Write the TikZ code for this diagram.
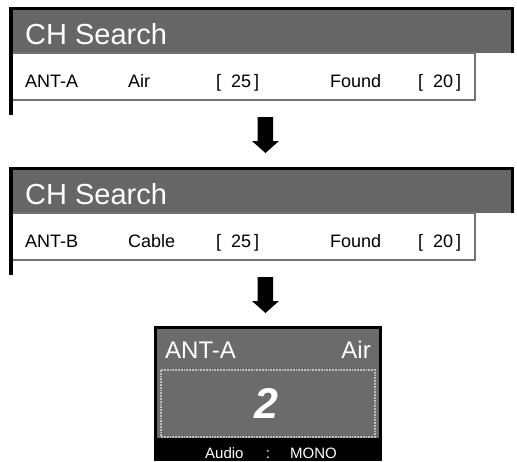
\documentclass[tikz,border=0pt]{standalone}
\usepackage{fontspec}
\setmainfont{Liberation Sans}
\begin{document}
\begin{tikzpicture}[x=1pt,y=-1pt,
  titlebar/.style={fill=black!60},
  rowbox/.style={draw=black!55,line width=1.2pt,fill=white},
  frameline/.style={line width=3.5pt,line cap=butt},
  rowtext/.style={anchor=base west,inner sep=0pt,font=\fontsize{18}{18}\selectfont},
  titletext/.style={anchor=base west,inner sep=0pt,text=white,font=\fontsize{29}{29}\selectfont},
  disptext/.style={inner sep=0pt,text=white,font=\fontsize{24}{24}\selectfont},
  audtext/.style={inner sep=0pt,text=white,font=\fontsize{15}{15}\selectfont},
  blockarrow/.style={fill=black}]
\useasboundingbox (0,0) rectangle (517,461);
% ---------- panel 1 ----------
\fill[titlebar] (12,9) rectangle (511,53);
\draw[rowbox] (11,53) rectangle (475,100);
\draw[frameline] (11,115) -- (11,8.5) -- (512.5,8.5) -- (512.5,53);
\node[titletext] (t1) at (25,44) {CH Search};
\node[rowtext] (a1) at (25,87) {ANT-A};
\node[rowtext] (b1) at (128,87) {Air};
\node[rowtext] (c1) at (216,87) {[\ \ 25\,]};
\node[rowtext] (d1) at (330,87) {Found};
\node[rowtext] (e1) at (418,87) {[\ \ 20\,]};
% ---------- arrow 1 ----------
\fill[blockarrow] (257.5,117) -- (273,117) -- (273,141) -- (279,141) -- (265.5,153) -- (252,141) -- (257.5,141) -- cycle;
% ---------- panel 2 ----------
\fill[titlebar] (12,169) rectangle (511,213);
\draw[rowbox] (11,213) rectangle (475,260);
\draw[frameline] (11,275) -- (11,168.5) -- (512.5,168.5) -- (512.5,213);
\node[titletext] (t2) at (25,204) {CH Search};
\node[rowtext] (a2) at (25,247) {ANT-B};
\node[rowtext] (b2) at (128,247) {Cable};
\node[rowtext] (c2) at (216,247) {[\ \ 25\,]};
\node[rowtext] (d2) at (330,247) {Found};
\node[rowtext] (e2) at (418,247) {[\ \ 20\,]};
% ---------- arrow 2 ----------
\fill[blockarrow] (257.5,277) -- (273,277) -- (273,301) -- (279,301) -- (265.5,313) -- (252,301) -- (257.5,301) -- cycle;
% ---------- display ----------
\fill[black] (154,326) rectangle (382,461);
\fill[black!58] (157,329) rectangle (379,438);
\draw[black!25,line width=1.8pt,densely dotted,fill=black!58] (161,370) rectangle (375,437);
\node[disptext,anchor=base west] (dant) at (165,358) {ANT-A};
\node[disptext,anchor=base east] (dair) at (371,358) {Air};
\node[inner sep=0pt,anchor=base,text=white,font=\fontsize{43}{43}\selectfont\bfseries\itshape] (dnum) at (266,418) {2};
\node[audtext,anchor=base west] (daud) at (205,458) {Audio};
\node[audtext,anchor=base] (dcol) at (268,458) {:};
\node[audtext,anchor=base west] (dmono) at (290,458) {MONO};
\end{tikzpicture}
\end{document}
